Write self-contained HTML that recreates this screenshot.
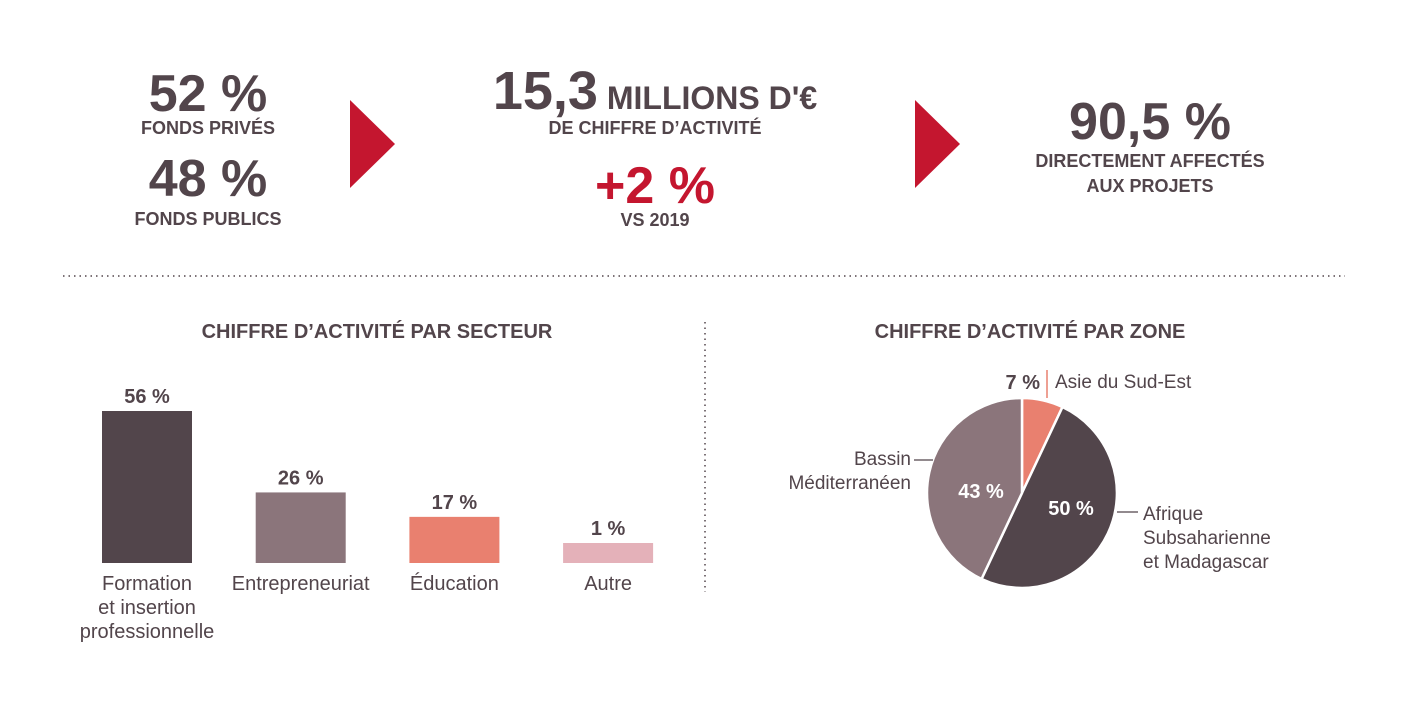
<!DOCTYPE html>
<html><head><meta charset="utf-8"><style>
html,body{margin:0;padding:0;background:#fff;width:1407px;height:711px;overflow:hidden}
svg{display:block;font-family:"Liberation Sans",sans-serif}
.b{font-weight:bold;fill:#52454b}
</style></head><body>
<svg width="1407" height="711" viewBox="0 0 1407 711">
<g>
<text class="b" x="208" y="111" font-size="52" text-anchor="middle">52 %</text>
<text class="b" x="208" y="134" font-size="18" text-anchor="middle">FONDS PRIVÉS</text>
<text class="b" x="208" y="196" font-size="52" text-anchor="middle">48 %</text>
<text class="b" x="208" y="225" font-size="18" text-anchor="middle">FONDS PUBLICS</text>
</g>
<polygon points="350,100 395,144 350,188" fill="#c4162f"/>
<g>
<text class="b" x="655" y="109" text-anchor="middle"><tspan font-size="54">15,3</tspan><tspan font-size="32"> MILLIONS D'€</tspan></text>
<text class="b" x="655" y="134" font-size="18" text-anchor="middle">DE CHIFFRE D’ACTIVITÉ</text>
<text x="655" y="203" font-size="52" font-weight="bold" fill="#c4162f" text-anchor="middle">+2 %</text>
<text class="b" x="655" y="226" font-size="18" text-anchor="middle">VS 2019</text>
</g>
<polygon points="915,100 960,144 915,188" fill="#c4162f"/>
<g>
<text class="b" x="1150" y="139" font-size="52" text-anchor="middle">90,5 %</text>
<text class="b" x="1150" y="167" font-size="18" text-anchor="middle">DIRECTEMENT AFFECTÉS</text>
<text class="b" x="1150" y="192" font-size="18" text-anchor="middle">AUX PROJETS</text>
</g>
<line x1="63" y1="276" x2="1345" y2="276" stroke="#52454b" stroke-width="1.5" stroke-dasharray="1.5,4"/>
<line x1="705" y1="322" x2="705" y2="592" stroke="#52454b" stroke-width="1.5" stroke-dasharray="1.5,4"/>
<text class="b" x="377" y="338" font-size="20" text-anchor="middle">CHIFFRE D’ACTIVITÉ PAR SECTEUR</text>
<text class="b" x="1030" y="338" font-size="20" text-anchor="middle">CHIFFRE D’ACTIVITÉ PAR ZONE</text>
<g id="bars"></g>
<g id="pie"></g>
</svg>
<script>
const sectors=["Formation|et insertion|professionnelle","Entrepreneuriat","Éducation","Autre"];
const sectorValues=[56,26,17,1];
const sectorLabels=["56 %","26 %","17 %","1 %"];
const zones=["Asie du Sud-Est","Afrique|Subsaharienne|et Madagascar","Bassin|Méditerranéen"];
const zoneValues=[7,50,43];
const zoneLabels=["7 %","50 %","43 %"];

const NS="http://www.w3.org/2000/svg";
function mk(t,a,p){const e=document.createElementNS(NS,t);for(const k in a)e.setAttribute(k,a[k]);p.appendChild(e);return e;}
const barColors=["#52454b","#8b757b","#e9806f","#e4b1b9"];
const base=563,yScale=v=>Math.max(v*152/56,20),xPos=i=>102+i*153.7;
const bg=document.getElementById('bars');
sectorValues.forEach((v,i)=>{
  const h=yScale(v),x=xPos(i);
  const r=mk('rect',{x:x,y:base-h,width:90,height:h,fill:barColors[i]},bg);
  
  
  const t=mk('text',{x:x+45,y:base-h-8,'font-size':20,'font-weight':'bold',fill:'#52454b','text-anchor':'middle'},bg);
  t.textContent=sectorLabels[i];
  
  
  sectors[i].split('|').forEach((ln,j)=>{
    const c=mk('text',{x:x+45,y:590+j*24,'font-size':20,fill:'#52454b','text-anchor':'middle'},bg);
    c.textContent=ln;
    
    
  });
});
const pg=document.getElementById('pie');
const cx=1022,cy=493,R=95,pieColors=["#e9806f","#52454b","#8b757b"];
const tot=zoneValues.reduce((a,b)=>a+b,0);
let a0=0;
const pt=(a,r)=>[cx+r*Math.sin(a),cy-r*Math.cos(a)];
zoneValues.forEach((v,i)=>{
  const a1=a0+v/tot*2*Math.PI;
  const p0=pt(a0,R),p1=pt(a1,R);
  const s=mk('path',{d:`M${cx},${cy}L${p0[0]},${p0[1]}A${R},${R} 0 ${a1-a0>Math.PI?1:0} 1 ${p1[0]},${p1[1]}Z`,fill:pieColors[i],stroke:'#fff','stroke-width':2.5},pg);
  
  
  a0=a1;
});
// labels
function tx(x,y,s,fs,col,anc,w,name){const t=mk('text',{x:x,y:y,'font-size':fs,fill:col,'text-anchor':anc,'font-weight':w},pg);t.textContent=s;return t;}
tx(1040,389,zoneLabels[0],20,'#52454b','end','bold','slice-value-0');
mk('line',{x1:1047,y1:370,x2:1047,y2:398,stroke:'#e9806f','stroke-width':1.5},pg);
tx(1055,388,zones[0],19,'#52454b','start','normal','zone-label-0');
tx(1071,515,zoneLabels[1],20,'#fff','middle','bold','slice-value-1');
tx(981,498,zoneLabels[2],20,'#fff','middle','bold','slice-value-2');
mk('line',{x1:1117,y1:512,x2:1138,y2:512,stroke:'#52454b','stroke-width':1.2},pg);
zones[1].split('|').forEach((l,j)=>tx(1143,520+j*24,l,19,'#52454b','start','normal','zone-label-1'));
mk('line',{x1:914,y1:460,x2:933,y2:460,stroke:'#52454b','stroke-width':1.2},pg);
zones[2].split('|').forEach((l,j)=>tx(911,465+j*24,l,19,'#52454b','end','normal','zone-label-2'));
</script>
</body></html>
